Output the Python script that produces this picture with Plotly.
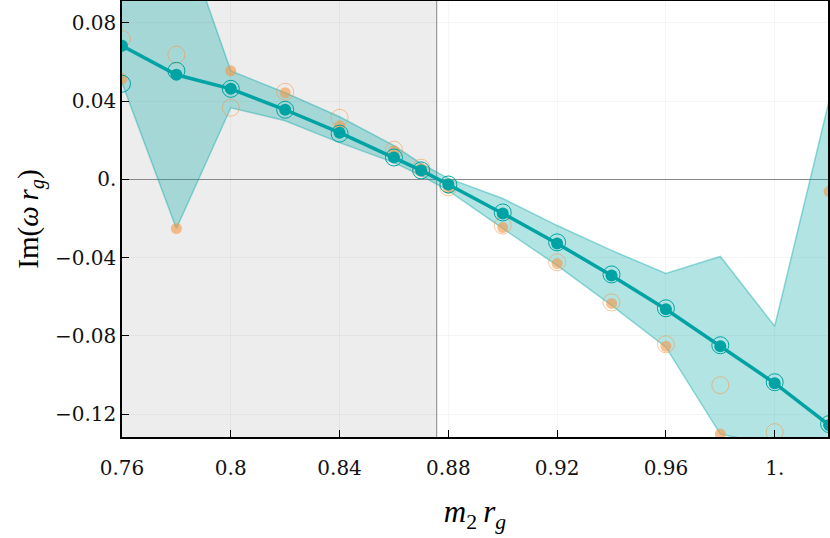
import plotly.graph_objects as go

# m2 * r_g sample points
m2 = [0.76, 0.78, 0.80, 0.82, 0.84, 0.86, 0.87, 0.88, 0.90, 0.92, 0.94, 0.96, 0.98, 1.00, 1.02]

# main estimate (teal, filled, joined)
im_main = [0.0683, 0.0535, 0.0463, 0.0356, 0.0239, 0.0112, 0.0046, -0.0026, -0.0174,
           -0.0328, -0.0491, -0.0664, -0.0853, -0.1042, -0.1256]
# teal open circles
im_main_alt = [0.0489, 0.0555, 0.0463, 0.0356, 0.0234, 0.0112, 0.0046, -0.0026, -0.0169,
               -0.0322, -0.0486, -0.0659, -0.0848, -0.1037, -0.1251]
# orange filled
im_fit = [0.0514, -0.0251, 0.0555, 0.0443, 0.0274, 0.0147, 0.0056, -0.0046, -0.0246,
          -0.0430, -0.0634, -0.0853, -0.1302, -0.16, -0.0062]
# orange open circles
im_fit_alt = [0.0718, 0.0637, 0.0366, 0.0448, 0.0315, 0.0152, 0.0060, -0.0041, -0.0236,
              -0.0424, -0.0629, -0.0843, -0.1052, -0.1292, None]

# spread band
band_hi = [0.125, 0.135, 0.0555, 0.0443, 0.032, 0.0173, 0.0081, 0.0005, -0.0098,
           -0.0236, -0.0363, -0.0481, -0.0394, -0.0751, 0.0402]
band_lo = [0.0494, -0.0251, 0.0366, 0.030, 0.0188, 0.0086, 0.0019, -0.0057, -0.0251,
           -0.0440, -0.0644, -0.0858, -0.1302, -0.136, -0.2]

m2_crit = 0.8757

x_ticks = [0.76, 0.80, 0.84, 0.88, 0.92, 0.96, 1.00]
x_text = ["0.76", "0.8", "0.84", "0.88", "0.92", "0.96", "1."]
y_ticks = [0.08, 0.04, 0.0, -0.04, -0.08, -0.12]
y_text = ["0.08", "0.04", "0.", "\u22120.04", "\u22120.08", "\u22120.12"]

teal = "#00a3a3"
orange = "rgba(245,150,70,0.6)"
font = "'Liberation Serif', serif"
tick_font = dict(family="'DejaVu Serif', serif", size=20, color="#111111")

fig = go.Figure()

# band
fig.add_trace(go.Scatter(x=m2, y=band_lo, mode="lines",
                         line=dict(color="rgba(0,165,165,0.4)", width=1.5),
                         showlegend=False, hoverinfo="skip"))
fig.add_trace(go.Scatter(x=m2, y=band_hi, mode="lines", fill="tonexty",
                         fillcolor="rgba(0,165,165,0.3)",
                         line=dict(color="rgba(0,165,165,0.4)", width=1.5),
                         showlegend=False, hoverinfo="skip"))

# orange points
fig.add_trace(go.Scatter(x=m2, y=im_fit_alt, mode="markers",
                         marker=dict(size=17, color="rgba(0,0,0,0)",
                                     line=dict(color="rgba(245,150,70,0.55)", width=1)),
                         showlegend=False))
fig.add_trace(go.Scatter(x=m2, y=im_fit, mode="markers",
                         marker=dict(size=11, color=orange, line=dict(width=0)),
                         showlegend=False))

# teal points
fig.add_trace(go.Scatter(x=m2, y=im_main_alt, mode="markers",
                         marker=dict(size=17, color="rgba(0,0,0,0)",
                                     line=dict(color=teal, width=1)),
                         showlegend=False))
fig.add_trace(go.Scatter(x=m2, y=im_main, mode="lines+markers",
                         line=dict(color=teal, width=3.5),
                         marker=dict(size=12, color=teal),
                         showlegend=False))

# shaded region left of the crossing
fig.add_shape(type="rect", xref="x", yref="paper", x0=0.76, x1=m2_crit, y0=0, y1=1,
              fillcolor="#ededed", line_width=0, layer="below")
fig.add_shape(type="line", xref="x", yref="paper", x0=m2_crit, x1=m2_crit, y0=0, y1=1,
              line=dict(color="#999999", width=1.2), layer="below")

fig.update_layout(
    width=830, height=538,
    margin=dict(l=122, r=2, t=1, b=101),
    plot_bgcolor="white", paper_bgcolor="white",
    font=dict(family=font, color="black", size=22),
    xaxis=dict(range=[0.76, 1.0196], tickvals=x_ticks, ticktext=x_text, tickfont=tick_font,
               ticks="inside", ticklen=7, tickcolor="black", ticklabelstandoff=12,
               showline=True, linecolor="black", linewidth=1.5, mirror=True,
               showgrid=True, gridcolor="rgba(0,0,0,0.04)", zeroline=False,
               automargin=False,
               title=dict(text="<i>m</i><sub>2</sub>\u2009<i>r</i><sub><i>g</i></sub>",
                          font=dict(size=31), standoff=22)),
    yaxis=dict(range=[-0.1317, 0.0912], tickvals=y_ticks, ticktext=y_text, tickfont=tick_font,
               ticks="inside", ticklen=7, tickcolor="black",
               showline=True, linecolor="black", linewidth=1.5, mirror=True,
               showgrid=True, gridcolor="rgba(0,0,0,0.04)",
               zeroline=True, zerolinecolor="#888888", zerolinewidth=1.2,
               automargin=False,
               title=dict(text="Im(<i>\u03c9\u2009r</i><sub><i>g</i></sub>)",
                          font=dict(size=29), standoff=8)),
)

fig.write_html("out.html", config={"displayModeBar": False},
               post_script="document.body.style.margin='0';")
